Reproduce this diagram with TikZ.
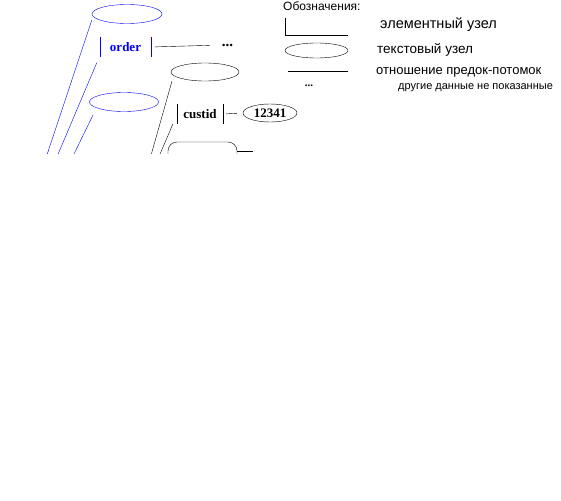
\documentclass[tikz,border=0pt]{standalone}
\usepackage{fontspec}
\setmainfont{Liberation Serif}
\newfontfamily\legendfont{Liberation Sans}
\usetikzlibrary{shapes.geometric}

\tikzset{
	elnode/.style = {ellipse, draw, minimum width=69pt, minimum height=19pt, inner sep=0pt},
	elem/.style = {font=\fontsize{13}{15}\selectfont\bfseries, minimum height=19pt, inner sep=0pt},
	more/.style = {font=\fontsize{15}{15}\selectfont\bfseries, inner sep=0pt},
	legend/.style = {font=\legendfont\fontsize{13}{15}\selectfont, anchor=west, inner sep=0pt},
}

\begin{document}
\begin{tikzpicture}[x=1pt, y=-1pt]
		\useasboundingbox (0,0) rectangle (561,500);
		\begin{scope}
		\clip (0,0) rectangle (561,153);
		% дерево: элемент order
		\node [elnode, draw=blue, minimum width=70pt] (ordertop) at (127,14) {};
		\node [elem, text=blue, minimum width=51pt] (order) at (125.5,47) {order};
		\draw [blue] (order.north west) -- (order.south west)
			(order.north east) -- (order.south east);
		\node [more] (dots1) at (227.5,45) {...};
		\draw [shorten <=4pt, shorten >=12pt] (order.east) -- (dots1.west);
		\node [elnode, draw=blue] (ordermid) at (124,102) {};
		% ребра order (синие)
		\coordinate (bl1) at (45.3,160);
		\coordinate (bl2) at (55.6,160);
		\coordinate (bl3) at (71.1,160);
		\draw [blue] ([yshift=-6pt]ordertop.west) -- (bl1);
		\draw [blue] ([xshift=-3pt, yshift=-6pt]order.south west) -- (bl2);
		\draw [blue] ([xshift=-31pt, yshift=-13pt]ordermid.center) -- (bl3);
		% элемент custid
		\node [elnode, minimum width=68pt, minimum height=18pt] (custtop) at (205,72) {};
		\node [elem, minimum width=46pt, minimum height=20pt] (custid) at (200,114) {custid};
		\draw (custid.north west) -- (custid.south west)
			(custid.north east) -- (custid.south east);
		\node [elnode, minimum width=54pt, minimum height=18pt, font=\fontsize{13}{15}\selectfont\bfseries] (val) at (270,113) {12341};
		\draw [shorten <=3pt, shorten >=6pt] (custid.east) -- (val.west);
		% ребра custid
		\coordinate (bk1) at (149.7,160);
		\coordinate (bk2) at (157.5,160);
		\draw ([xshift=-33pt, yshift=-9pt]custtop.center) -- (bk1);
		\draw ([xshift=-4pt]custid.south west) -- (bk2);
		% следующий узел (обрезан)
		\node [draw, rounded corners=9pt, minimum width=69pt, minimum height=24pt] (next) at (202.5,154) {};
		\coordinate (nextend) at (253,151);
		\draw ([yshift=3pt]next.east) -- (nextend);
		% Обозначения
		\node [legend, font=\legendfont\fontsize{12}{14}\selectfont] (legtitle) at (283,6) {Обозначения:};
		\draw (285,18) |- (348,35);
		\node [legend, font=\legendfont\fontsize{14.5}{16}\selectfont] (leg1) at (380,25) {элементный узел};
		\node [ellipse, draw, minimum width=63pt, minimum height=15pt, inner sep=0pt] (legell) at (316.5,50.5) {};
		\node [legend, font=\legendfont\fontsize{13.5}{16}\selectfont] (leg2) at (377,50) {текстовый узел};
		\draw (288,71) -- (348,71);
		\node [legend] (leg3) at (376,72) {отношение предок-потомок};
		\node [more, font=\fontsize{11}{12}\selectfont\bfseries] (legdots) at (309,86) {...};
		\node [legend, font=\legendfont\fontsize{11}{13}\selectfont] (leg4) at (398,88) {другие данные не показанные};
		\end{scope}
	\end{tikzpicture}
\end{document}
